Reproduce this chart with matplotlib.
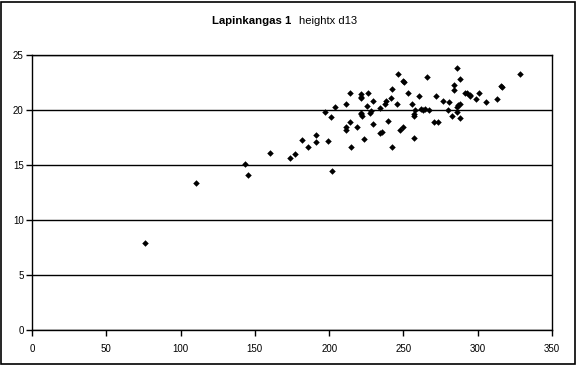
import matplotlib.pyplot as plt
from matplotlib.patches import Rectangle

plt.rcParams['font.family'] = ['Liberation Sans', 'DejaVu Sans']

# d13 (x) and height (y)
d13 = [76.1, 110.4, 143.6, 145.3, 159.9, 173.8, 176.9, 181.7, 185.6, 191.0,
       191.0, 197.0, 199.0, 201.1, 201.7, 204.0, 211.1, 213.8, 213.8, 211.6,
       211.4, 215.0, 219.0, 221.5, 221.5, 221.5, 221.5, 221.5, 221.9, 223.2,
       225.2, 226.4, 227.3, 228.4, 229.3, 229.5, 234.0, 234.0, 235.3, 237.3,
       238.3, 239.4, 241.4, 242.5, 242.3, 245.7, 246.1, 247.7, 249.9, 249.7,
       250.1, 252.8, 255.5, 256.8, 257.1, 256.8, 257.5, 260.7, 261.8, 263.1,
       264.7, 267.4, 265.6, 270.3, 273.4, 271.6, 276.8, 280.1, 281.0, 283.0,
       283.9, 283.9, 286.0, 286.0, 286.2, 286.8, 288.0, 288.2, 288.2, 291.5,
       293.1, 294.9, 294.7, 298.9, 301.0, 305.9, 313.3, 315.5, 316.4, 328.5]
height = [7.88, 13.36, 15.06, 14.06, 16.06, 15.61, 16.0, 17.27, 16.6, 17.7,
          17.06, 19.79, 17.2, 19.34, 14.45, 20.25, 20.57, 21.52, 18.88, 18.45,
          18.18, 16.6, 18.48, 21.43, 21.2, 21.06, 19.75, 19.6, 19.45, 17.39,
          20.34, 21.52, 19.75, 19.94, 20.79, 18.75, 20.21, 17.9, 18.03, 20.57,
          20.79, 18.97, 21.12, 21.94, 16.64, 20.55, 23.25, 18.15, 18.43, 22.64,
          22.52, 21.57, 20.57, 19.45, 19.61, 17.43, 20.0, 21.27, 20.12, 20.0,
          20.12, 19.97, 23.0, 18.88, 18.94, 21.3, 20.79, 19.97, 20.7, 19.48,
          22.24, 21.79, 23.82, 19.79, 20.25, 20.45, 20.55, 22.79, 19.27, 21.52,
          21.52, 21.25, 21.36, 21.0, 21.52, 20.7, 21.0, 22.18, 22.12, 23.25]

x_ticks = [0, 50, 100, 150, 200, 250, 300, 350]
y_ticks = [0, 5, 10, 15, 20, 25]

W, H = 577, 365
fig = plt.figure(figsize=(W / 100, H / 100), dpi=100)
ax = fig.add_axes([32 / W, 35 / H, 520 / W, 275 / H])

ax.scatter(d13, height, marker='D', s=11, color='black', zorder=3, linewidths=0)

ax.set_xlim(0, 350)
ax.set_ylim(0, 25)
ax.set_xticks(x_ticks)
ax.set_yticks(y_ticks)
ax.grid(axis='y', color='black', linewidth=1)
ax.tick_params(direction='out', length=4, width=1, labelsize=7, pad=2, colors='black')
ax.tick_params(axis='x', pad=6)
for s in ax.spines.values():
    s.set_linewidth(1)
    s.set_color('black')

# Title: bold site name + plain rest
fig.text(252 / W, 1 - 21 / H, 'Lapinkangas 1', fontsize=8.2, fontweight='bold',
         ha='center', va='center')
fig.text(299 / W, 1 - 21 / H, 'heightx d13', fontsize=8, ha='left', va='center')

# Outer chart border
fig.patches.append(Rectangle((1 / W, 1 / H), (W - 3) / W, (H - 3) / H,
                             transform=fig.transFigure, fill=False,
                             edgecolor='black', linewidth=1.2))

fig.savefig('out.png', dpi=100)
